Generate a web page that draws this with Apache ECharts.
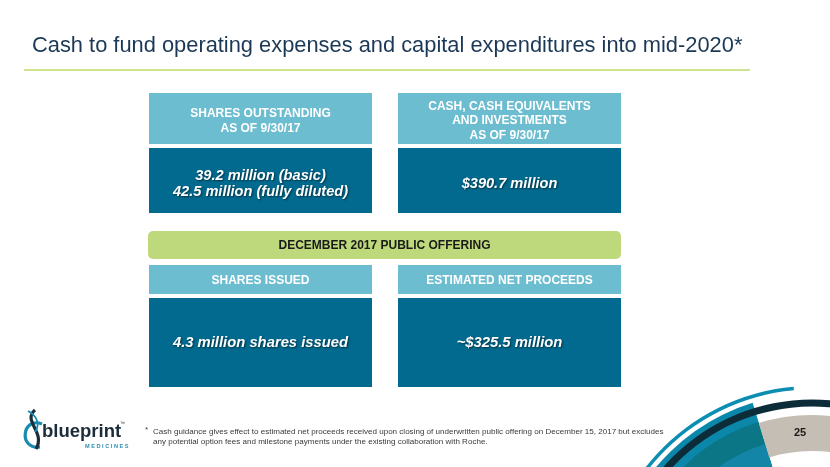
<!DOCTYPE html>
<html>
<head>
<meta charset="utf-8">
<script src="https://cdn.jsdelivr.net/npm/echarts@6/dist/echarts.min.js"></script>
<style>
  html, body { margin: 0; padding: 0; background: #ffffff; }
  #chart { width: 830px; height: 467px; }
</style>
</head>
<body>
<div id="chart"></div>
<script>
// ---- content ----
const titleText = "Cash to fund operating expenses and capital expenditures into mid-2020*";
const topHeaders = ["SHARES OUTSTANDING\nAS OF 9/30/17", "CASH, CASH EQUIVALENTS\nAND INVESTMENTS\nAS OF 9/30/17"];
const topValues = ["39.2 million (basic)\n42.5 million (fully diluted)", "$390.7 million"];
const offeringLabel = "DECEMBER 2017 PUBLIC OFFERING";
const bottomHeaders = ["SHARES ISSUED", "ESTIMATED NET PROCEEDS"];
const bottomValues = ["4.3 million shares issued", "~$325.5 million"];
const footnoteLines = [
  "Cash guidance gives effect to estimated net proceeds received upon closing of underwritten public offering on December 15, 2017 but excludes",
  "any potential option fees and milestone payments under the existing collaboration with Roche."
];
const pageNumber = "25";
const logoWord = "blueprint";
const logoSub = "M E D I C I N E S";

// ---- drawing ----
const chart = echarts.init(document.getElementById('chart'), null, { renderer: 'canvas', width: 830, height: 467 });
const FONT = '"Liberation Sans", Arial, sans-serif';
const els = [];
let z = 1;
function add(e) { e.z = z++; els.push(e); }

const colX = [149, 398];
const colW = 223;
const lightBlue = '#6dbdd1';
const darkBlue = '#036a8f';

// title
add({ type: 'text', x: 32, y: 46, style: { text: titleText, fill: '#1b3856', fontSize: 21.85, fontFamily: FONT, align: 'left', verticalAlign: 'middle' } });
add({ type: 'rect', shape: { x: 24, y: 69, width: 726, height: 2 }, style: { fill: '#cfe38f' } });

const valueShadow = { textShadowColor: 'rgba(0,0,0,0.55)', textShadowBlur: 2, textShadowOffsetX: 1, textShadowOffsetY: 1 };

// top row
for (let i = 0; i < 2; i++) {
  const cx = colX[i] + colW / 2;
  const nLines = topHeaders[i].split('\n').length;
  add({ type: 'rect', shape: { x: colX[i], y: 93, width: colW, height: 51 }, style: { fill: lightBlue } });
  add({ type: 'text', x: cx, y: 121, style: { text: topHeaders[i], fill: '#ffffff', fontSize: 12, fontWeight: 'bold', fontFamily: FONT, align: 'center', verticalAlign: 'middle', lineHeight: nLines === 2 ? 15.5 : 14.8 } });
  add({ type: 'rect', shape: { x: colX[i], y: 148, width: colW, height: 65 }, style: { fill: darkBlue } });
  add({ type: 'text', x: cx, y: 183.5, style: Object.assign({ text: topValues[i], fill: '#ffffff', fontSize: 14.6, fontWeight: 'bold', fontStyle: 'italic', fontFamily: FONT, align: 'center', verticalAlign: 'middle', lineHeight: 16 }, valueShadow) });
}

// offering band
add({ type: 'rect', shape: { x: 148, y: 231, width: 473, height: 28, r: 5 }, style: { fill: '#bdd97b' } });
add({ type: 'text', x: 384.5, y: 246, style: { text: offeringLabel, fill: '#1a1a1a', fontSize: 12, fontWeight: 'bold', fontFamily: FONT, align: 'center', verticalAlign: 'middle' } });

// bottom row
for (let i = 0; i < 2; i++) {
  const cx = colX[i] + colW / 2;
  add({ type: 'rect', shape: { x: colX[i], y: 265, width: colW, height: 29 }, style: { fill: lightBlue } });
  add({ type: 'text', x: cx, y: 281, style: { text: bottomHeaders[i], fill: '#ffffff', fontSize: 12, fontWeight: 'bold', fontFamily: FONT, align: 'center', verticalAlign: 'middle' } });
  add({ type: 'rect', shape: { x: colX[i], y: 298, width: colW, height: 89 }, style: { fill: darkBlue } });
  add({ type: 'text', x: cx, y: 343, style: Object.assign({ text: bottomValues[i], fill: '#ffffff', fontSize: 14.8, fontWeight: 'bold', fontStyle: 'italic', fontFamily: FONT, align: 'center', verticalAlign: 'middle' }, valueShadow) });
}

// footnote
add({ type: 'text', x: 145, y: 430, style: { text: '*', fill: '#3a3a3a', fontSize: 8, fontFamily: FONT, align: 'left', verticalAlign: 'middle' } });
footnoteLines.forEach((t, k) => {
  add({ type: 'text', x: 153, y: 432 + k * 10, style: { text: t, fill: '#3a3a3a', fontSize: 8.05, fontFamily: FONT, align: 'left', verticalAlign: 'middle' } });
});

// corner decoration (concentric bands)
const dcx = 812, dcy = 597;
const deg = d => d * Math.PI / 180;
function sector(r0, r, a0, a1, fill) {
  add({ type: 'sector', shape: { cx: dcx, cy: dcy, r0: r0, r: r, startAngle: deg(a0), endAngle: deg(a1), clockwise: true }, style: { fill: fill } });
}
sector(207.5, 211, 180, 265, '#0c8db2');   // thin outer arc
sector(0, 203, 180, 253, '#0b87aa');       // teal wedge
sector(0, 183, 180, 253, '#0a7686');       // darker teal
sector(0, 160, 180, 253, '#1386a8');       // inner blue
sector(146, 182, 253, 320, '#c5beb4');     // beige band
sector(190.5, 197.5, 180, 320, '#0d2c3a'); // navy arc
add({ type: 'text', x: 800, y: 433, style: { text: pageNumber, fill: '#1a1a1a', fontSize: 11, fontWeight: 'bold', fontFamily: FONT, align: 'center', verticalAlign: 'middle' } });

// logo
add({ type: 'bezierCurve', shape: { x1: 42, y1: 424, cpx1: 22, cpy1: 416, cpx2: 18, cpy2: 450, x2: 40, y2: 447 }, style: { fill: 'none', stroke: '#1a8cb1', lineWidth: 3.2 } });
add({ type: 'bezierCurve', shape: { x1: 35, y1: 410, cpx1: 22, cpy1: 421, cpx2: 46, cpy2: 432, x2: 36, y2: 449 }, style: { fill: 'none', stroke: '#1b2e3c', lineWidth: 3.2 } });
add({ type: 'bezierCurve', shape: { x1: 28, y1: 411, cpx1: 36, cpy1: 415, cpx2: 41, cpy2: 424, x2: 35, y2: 432 }, style: { fill: 'none', stroke: '#1a8cb1', lineWidth: 1.8 } });
add({ type: 'text', x: 42, y: 432, style: { text: logoWord, fill: '#1b2c3a', fontSize: 18.5, fontWeight: 'bold', fontFamily: FONT, align: 'left', verticalAlign: 'middle' } });
add({ type: 'text', x: 120, y: 424, style: { text: '™', fill: '#1b2c3a', fontSize: 5, fontFamily: FONT, align: 'left', verticalAlign: 'middle' } });
add({ type: 'text', x: 85, y: 446, style: { text: logoSub, fill: '#2a8fb5', fontSize: 5.6, fontWeight: 'bold', fontFamily: FONT, align: 'left', verticalAlign: 'middle' } });

chart.setOption({
  backgroundColor: '#ffffff',
  animation: false,
  graphic: { elements: els }
});
</script>
</body>
</html>
